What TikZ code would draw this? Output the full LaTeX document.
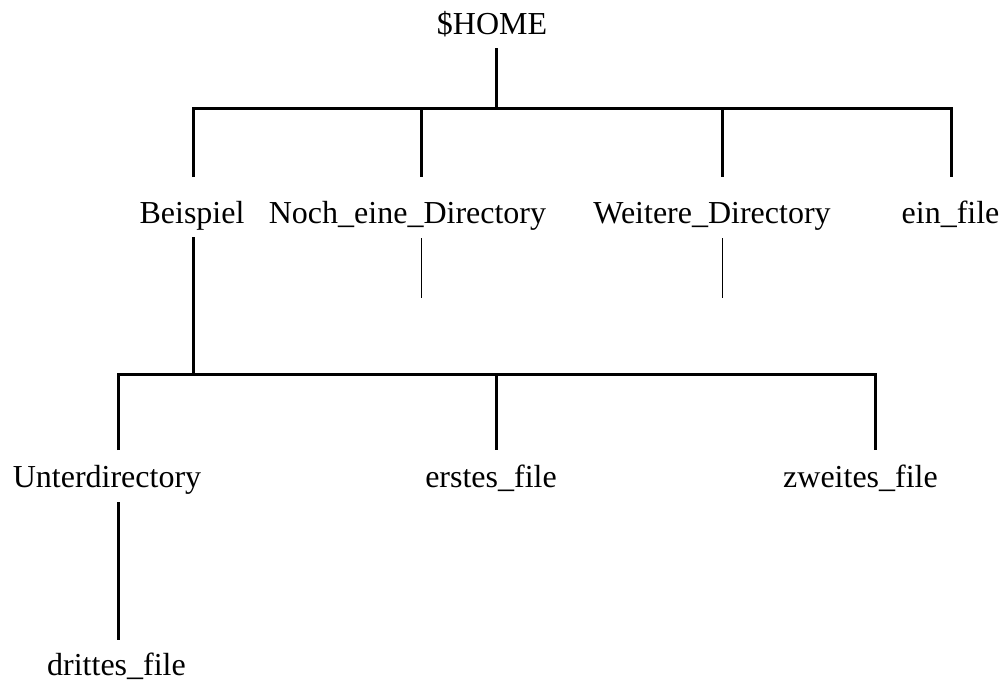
\documentclass[tikz,border=0pt]{standalone}
\usepackage{fontspec}
\setmainfont{Liberation Serif}
\begin{document}
\begin{tikzpicture}[x=1pt,y=-1pt,
  lbl/.style={anchor=base,inner sep=0pt,font=\fontsize{32}{36}\selectfont},
  thick line/.style={line width=3pt,line join=miter},
  thin line/.style={line width=1pt}]
\useasboundingbox (0,0) rectangle (1008,680);
% labels
\node[lbl] (home) at (492,34) {\$HOME};
\node[lbl] (beispiel) at (192,223) {Beispiel};
\node[lbl] (noch) at (407.5,223) {Noch\_eine\_Directory};
\node[lbl] (weitere) at (712,223) {Weitere\_Directory};
\node[lbl] (einfile) at (950.5,223) {ein\_file};
\node[lbl] (unter) at (107,487) {Unterdirectory};
\node[lbl] (erstes) at (491,487) {erstes\_file};
\node[lbl] (zweites) at (860.5,487) {zweites\_file};
\node[lbl] (drittes) at (116.5,675) {drittes\_file};
% junction coordinates
\coordinate (h0) at (496,48);
\coordinate (h1) at (496,108);
\coordinate (b1) at (193,108);
\coordinate (b1d) at (193,177);
\coordinate (n1) at (421,108);
\coordinate (n1d) at (421,177);
\coordinate (w1) at (722,108);
\coordinate (w1d) at (722,177);
\coordinate (e1) at (951,108);
\coordinate (e1d) at (951,177);
\coordinate (n2) at (421,238);
\coordinate (n2d) at (421,298);
\coordinate (w2) at (722,238);
\coordinate (w2d) at (722,298);
\coordinate (b2) at (193,237);
\coordinate (b3) at (193,374);
\coordinate (u1) at (118,374);
\coordinate (u1d) at (118,450);
\coordinate (m1) at (496,374);
\coordinate (m1d) at (496,450);
\coordinate (z1) at (875,374);
\coordinate (z1d) at (875,450);
\coordinate (u2) at (118,502);
\coordinate (u2d) at (118,640);
% connectors
\draw[thick line] (h0) -- (h1);
\draw[thick line] (b1d) -- (b1) -- (e1) -- (e1d);
\draw[thick line] (n1) -- (n1d);
\draw[thick line] (w1) -- (w1d);
\draw[thin line] (n2) -- (n2d);
\draw[thin line] (w2) -- (w2d);
\draw[thick line] (b2) -- (b3);
\draw[thick line] (u1d) -- (u1) -- (z1) -- (z1d);
\draw[thick line] (m1) -- (m1d);
\draw[thick line] (u2) -- (u2d);
\end{tikzpicture}
\end{document}
